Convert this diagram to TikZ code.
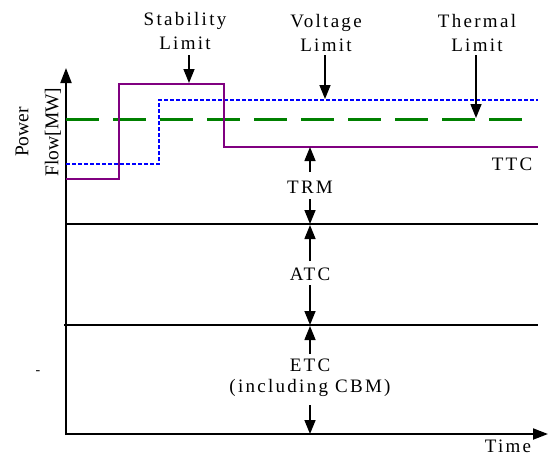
\documentclass[tikz,border=0pt]{standalone}
\usepackage{fontspec}
\setmainfont{Liberation Serif}
\newfontfamily\spaced[LetterSpace=12]{Liberation Serif}
\usetikzlibrary{arrows.meta}
\definecolor{ttcpurple}{RGB}{128,0,128}
\definecolor{vblue}{RGB}{0,0,255}
\definecolor{tgreen}{RGB}{0,128,0}
\begin{document}
\begin{tikzpicture}[x=1pt,y=-1pt,
  lbl/.style={font=\spaced\fontsize{19}{24}\selectfont, inner sep=0pt, align=center},
  ylbl/.style={font=\fontsize{19.5}{22}\selectfont, inner sep=0pt, rotate=90},
  arr/.style={line width=1.5pt, -{Triangle[length=14pt,width=11pt]}},
  axisline/.style={line width=2pt, -{Triangle[length=15pt,width=11pt]}},
  level/.style={line width=1.5pt},
  ttcline/.style={line width=2.8pt, color=ttcpurple},
  vline/.style={line width=1.3pt, color=vblue, dash pattern=on 4pt off 2pt},
  thline/.style={line width=3pt, color=tgreen, dash pattern=on 33pt off 14pt}]
\useasboundingbox (0,0) rectangle (548,456);

% axes
\coordinate (O) at (66,435);
\coordinate (ytip) at (66,68);
\coordinate (xstart) at (65,434);
\coordinate (xtip) at (548,434);
\draw[axisline] (O) -- (ytip);
\draw[axisline] (xstart) -- (xtip);

% level lines
\coordinate (l1a) at (66,224); \coordinate (l1b) at (538,224);
\coordinate (l2a) at (64,325); \coordinate (l2b) at (538,325);
\draw[level] (l1a) -- (l1b);
\draw[level] (l2a) -- (l2b);

% thermal limit (green dashed)
\coordinate (g1) at (66,119); \coordinate (g2) at (522,119);
\draw[thline] (g1) -- (g2);

% voltage limit (blue dotted)
\coordinate (b1) at (66,164); \coordinate (b2) at (159,164);
\coordinate (b3) at (159,100); \coordinate (b4) at (538,100);
\draw[vline] (b1) -- (b2) -- (b3) -- (b4);

% TTC (purple)
\coordinate (p1) at (66,179); \coordinate (p2) at (119,179);
\coordinate (p3) at (119,84); \coordinate (p4) at (224,84);
\coordinate (p5) at (224,147); \coordinate (p6) at (538,147);
\draw[ttcline] (p1) -- (p2) -- (p3) -- (p4) -- (p5) -- (p6);

% top labels
\node[lbl, anchor=south] (stab) at (185,50) {Stability\\Limit};
\node[lbl, anchor=south] (volt) at (326,52) {Voltage\\Limit};
\node[lbl, anchor=south] (therm) at (477,52) {Thermal\\Limit};
\coordinate (stabA) at (189,55); \coordinate (stabT) at (189,83);
\coordinate (voltA) at (325,55); \coordinate (voltT) at (325,99);
\coordinate (thermA) at (476,55); \coordinate (thermT) at (476,118);
\draw[arr] (stabA) -- (stabT);
\draw[arr] (voltA) -- (voltT);
\draw[arr] (thermA) -- (thermT);

% side labels
\node[lbl, anchor=base] (ttc) at (512,170) {TTC};
\node[lbl, anchor=base] (time) at (508,452) {Time};
\node[ylbl] (power) at (22,132) {Power};
\node[ylbl] (flow) at (53,132) {Flow[MW]};
\node[font=\fontsize{14}{16}\selectfont, inner sep=0pt] (dash) at (38,373) {-};

% TRM / ATC / ETC
\node[lbl, anchor=base] (trm) at (310,193) {TRM};
\node[lbl, anchor=base] (atc) at (310,280) {ATC};
\node[lbl, anchor=south] (etc) at (310,397) {ETC\\[-3pt](including CBM)};

\coordinate (trmA) at (310,172); \coordinate (trmT) at (310,147);
\coordinate (trmB) at (310,199); \coordinate (trmU) at (310,224);
\coordinate (atcA) at (310,261); \coordinate (atcT) at (310,225);
\coordinate (atcB) at (310,285); \coordinate (atcU) at (310,325);
\coordinate (etcA) at (310,354); \coordinate (etcT) at (310,326);
\coordinate (etcB) at (310,405); \coordinate (etcU) at (310,434);
\draw[arr] (trmA) -- (trmT);
\draw[arr] (trmB) -- (trmU);
\draw[arr] (atcA) -- (atcT);
\draw[arr] (atcB) -- (atcU);
\draw[arr] (etcA) -- (etcT);
\draw[arr] (etcB) -- (etcU);
\end{tikzpicture}
\end{document}
